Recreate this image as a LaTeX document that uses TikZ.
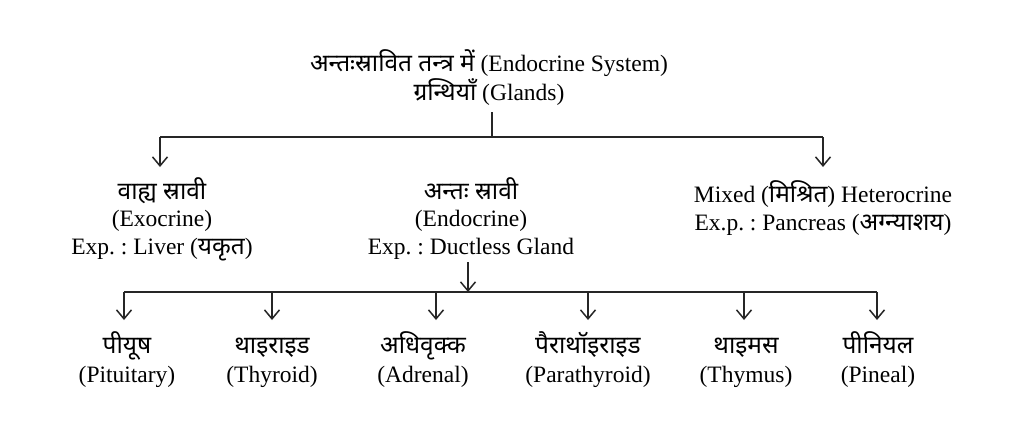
\documentclass[tikz,border=0pt]{standalone}
\usepackage{fontspec}
\setmainfont{Liberation Serif}
\newfontfamily\hifont[Script=Devanagari,Scale=1.04]{Noto Sans}
\newcommand{\hi}[1]{{\hifont #1}}
\usetikzlibrary{arrows.meta}
\lineskiplimit=-100pt
\frenchspacing
\begin{document}
\begin{tikzpicture}[x=1pt,y=-1pt,
  lbl/.style={align=center,inner sep=0pt,anchor=base,
    font=\fontsize{23.5}{29}\selectfont},
  ln/.style={line width=1.5pt,black!85},
  arr/.style={ln,-{Straight Barb[length=9pt,width=15pt]}}]
\useasboundingbox[fill=white] (0,0) rectangle (1024,424);
% texts (anchor = baseline of the last line)
\node[lbl] (top) at (489,100) {\hi{अन्तःस्रावित तन्त्र में} (Endocrine System)\\\hi{ग्रन्थियाँ} (Glands)};
\node[lbl,font=\fontsize{23.5}{27.5}\selectfont] (exo) at (162,254) {\hi{वाह्य स्रावी}\\(Exocrine)\\Exp. : Liver (\hi{यकृत})};
\node[lbl,font=\fontsize{23.5}{27.5}\selectfont] (endo) at (471,254) {\hi{अन्तः स्रावी}\\(Endocrine)\\Exp. : Ductless Gland};
\node[lbl,font=\fontsize{23.5}{28}\selectfont] (mix) at (823,230) {Mixed (\hi{मिश्रित}) Heterocrine\\Ex.p. : Pancreas (\hi{अग्न्याशय})};
\node[lbl] (g1) at (127,382) {\hi{पीयूष}\\(Pituitary)};
\node[lbl] (g2) at (272,382) {\hi{थाइराइड}\\(Thyroid)};
\node[lbl] (g3) at (423,382) {\hi{अधिवृक्क}\\(Adrenal)};
\node[lbl] (g4) at (588,382) {\hi{पैराथॉइराइड}\\(Parathyroid)};
\node[lbl] (g5) at (746,382) {\hi{थाइमस}\\(Thymus)};
\node[lbl] (g6) at (878,382) {\hi{पीनियल}\\(Pineal)};
% first level connectors
\coordinate (j0) at (492,137);
\coordinate (jl) at (160,137);
\coordinate (jr) at (823,137);
\coordinate (tl) at (160,167);
\coordinate (tr) at (823,167);
\draw[ln] (top.south -| j0) ++(0,7) -- (j0);
\draw[ln] (jl) -- (jr);
\draw[arr] (jl) -- (tl);
\draw[arr] (jr) -- (tr);
% second level
\coordinate (jm) at (468,292);
\draw[arr] (endo.south -| jm) ++(0,3) -- (jm);
\coordinate (b1) at (124,292);
\coordinate (b2) at (272,292);
\coordinate (b3) at (436,292);
\coordinate (b4) at (588,292);
\coordinate (b5) at (744,292);
\coordinate (b6) at (877,292);
\draw[ln] (b1) -- (b6);
\foreach \b in {b1,b2,b3,b4,b5,b6}
  \draw[arr] (\b) -- ++(0,28);
\end{tikzpicture}
\end{document}
